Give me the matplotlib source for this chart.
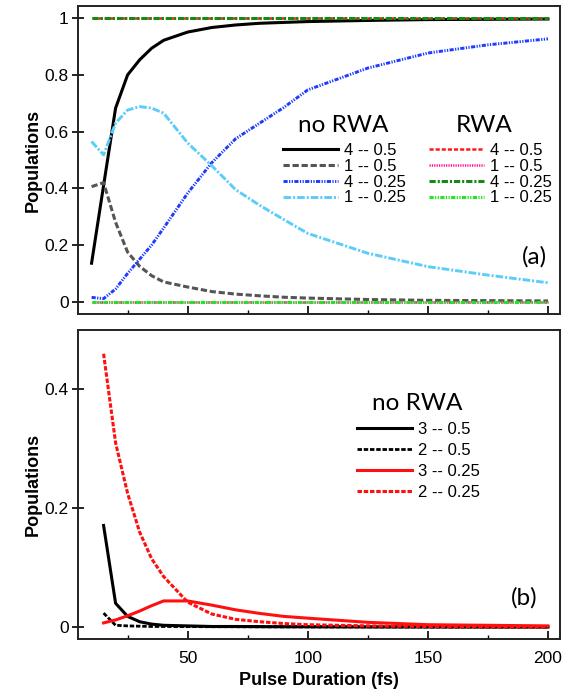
import matplotlib
matplotlib.use("Agg")
import matplotlib.pyplot as plt
from matplotlib.ticker import FixedLocator, FuncFormatter

plt.rcParams['font.family'] = ['Liberation Sans', 'DejaVu Sans']
plt.rcParams['lines.scale_dashes'] = False

# ---------------- data ----------------
x_top = [10, 15, 20, 25, 30, 35, 40, 50, 60, 70, 80, 90, 100, 125, 150, 175, 200]
norwa_4_05 = [0.136, 0.41, 0.683, 0.80, 0.853, 0.894, 0.922, 0.951, 0.967, 0.976, 0.982,
              0.985, 0.988, 0.992, 0.995, 0.996, 0.997]
norwa_1_05 = [0.406, 0.42, 0.28, 0.175, 0.125, 0.092, 0.07, 0.052, 0.036, 0.027, 0.021,
              0.016, 0.013, 0.008, 0.005, 0.004, 0.003]
norwa_4_025 = [0.0155, 0.011, 0.045, 0.10, 0.15, 0.20, 0.26, 0.383, 0.49, 0.575, 0.63,
               0.685, 0.747, 0.824, 0.877, 0.906, 0.927]
norwa_1_025 = [0.565, 0.518, 0.63, 0.676, 0.688, 0.683, 0.665, 0.56, 0.48, 0.395, 0.34,
               0.29, 0.241, 0.171, 0.124, 0.094, 0.067]
rwa_4_05 = [1.0] * len(x_top)
rwa_1_05 = [0.0] * len(x_top)
rwa_4_025 = [1.0] * len(x_top)
rwa_1_025 = [0.0] * len(x_top)

x_bot = [15, 20, 25, 30, 35, 40, 50, 60, 70, 80, 90, 100, 125, 150, 175, 200]
b_3_05 = [0.171, 0.040, 0.018, 0.009, 0.005, 0.003, 0.002, 0.001, 0.001, 0.0008, 0.0006,
          0.0005, 0.0003, 0.0002, 0.0001, 0.0001]
b_2_05 = [0.0235, 0.003, 0.002, 0.0015, 0.001, 0.001, 0.0008, 0.0006, 0.0005, 0.0004,
          0.0003, 0.0003, 0.0002, 0.0001, 0.0001, 0.0001]
b_3_025 = [0.007, 0.012, 0.019, 0.027, 0.036, 0.044, 0.044, 0.037, 0.029, 0.023, 0.018,
           0.015, 0.008, 0.004, 0.003, 0.002]
b_2_025 = [0.46, 0.31, 0.225, 0.16, 0.115, 0.085, 0.042, 0.022, 0.013, 0.009, 0.006,
           0.004, 0.002, 0.001, 0.0005, 0.0003]

top_labels = ['4 -- 0.5', '1 -- 0.5', '4 -- 0.25', '1 -- 0.25']
bot_labels = ['3 -- 0.5', '2 -- 0.5', '3 -- 0.25', '2 -- 0.25']

# ---------------- figure ----------------
W, H = 572, 694
fig = plt.figure(figsize=(W / 100, H / 100), dpi=100)
ax1 = fig.add_axes([0.137, 0.5476, 0.842, 0.4438])
ax2 = fig.add_axes([0.137, 0.0793, 0.842, 0.4452])

title_font = dict(family=['Lato', 'DejaVu Sans'], size=17.5)

# top panel
l1, = ax1.plot(x_top, norwa_4_05, color='black', lw=2.2)
l2, = ax1.plot(x_top, norwa_1_05, color='#555555', lw=2.2, dashes=(4.5, 2.0))
l3, = ax1.plot(x_top, norwa_4_025, color='#1d3cff', lw=2.1, dashes=(3, 1, 0.9, 1, 0.9, 1))
l4, = ax1.plot(x_top, norwa_1_025, color='#5ccdfa', lw=2.1, dashes=(5.5, 1.4, 1.5, 1.4))
r1, = ax1.plot(x_top, rwa_4_05, color='#ff1a1a', lw=1.8, dashes=(3, 1.4))
r3, = ax1.plot(x_top, rwa_4_025, color='#138a13', lw=2.2, dashes=(4.5, 1.4, 1.5, 1.4))
r2, = ax1.plot(x_top, rwa_1_05, color='#ff1493', lw=1.8, dashes=(0.9, 0.8))
r4, = ax1.plot(x_top, rwa_1_025, color='#22e622', lw=2.2, dashes=(3, 1, 0.9, 1, 0.9, 1))

leg_kw = dict(loc='upper left', bbox_transform=fig.transFigure, frameon=False,
              fontsize=12, handlelength=3.3, handletextpad=0.35, borderpad=0,
              borderaxespad=0)
leg1 = ax1.legend([l1, l2, l3, l4], top_labels, bbox_to_anchor=(283 / W, 1 - 143 / H),
                  labelspacing=0.05, **leg_kw)
ax1.add_artist(leg1)
ax1.legend([r1, r2, r3, r4], top_labels, bbox_to_anchor=(429 / W, 1 - 143 / H),
           labelspacing=0.05, **leg_kw)
fig.text(343 / W, 1 - 125 / H, 'no RWA', ha='center', va='center', fontdict=title_font)
fig.text(484 / W, 1 - 125 / H, 'RWA', ha='center', va='center', fontdict=title_font)
fig.text(547 / W, 1 - 257 / H, '(a)', ha='right', va='center', fontdict=title_font)

# bottom panel
ax2.plot(x_bot, b_3_05, color='black', lw=2.2, label=bot_labels[0])
ax2.plot(x_bot, b_2_05, color='black', lw=2, dashes=(3.2, 1.3), label=bot_labels[1])
ax2.plot(x_bot, b_3_025, color='#ff1010', lw=2.2, label=bot_labels[2])
ax2.plot(x_bot, b_2_025, color='#ff1010', lw=2.2, dashes=(3.2, 1.3), label=bot_labels[3])
ax2.legend(bbox_to_anchor=(357 / W, 1 - 422 / H), labelspacing=0.36, **leg_kw)
fig.text(417 / W, 1 - 403 / H, 'no RWA', ha='center', va='center', fontdict=title_font)
fig.text(537 / W, 1 - 598 / H, '(b)', ha='right', va='center', fontdict=title_font)

fmt = FuncFormatter(lambda v, p: '%g' % round(v, 3))
for ax in (ax1, ax2):
    ax.set_xlim(4.5, 205)
    ax.xaxis.set_major_locator(FixedLocator([50, 100, 150, 200]))
    ax.xaxis.set_minor_locator(FixedLocator([25, 75, 125, 175]))
    ax.tick_params(axis='x', which='major', direction='in', length=6, width=1.2)
    ax.tick_params(axis='x', which='minor', direction='in', length=3, width=1.0)
    ax.tick_params(axis='y', which='major', direction='inout', length=8, width=1.2,
                   labelsize=12.5, pad=3)
    ax.yaxis.set_major_formatter(fmt)
    for s in ax.spines.values():
        s.set_linewidth(1.4)
        s.set_color('#222222')
    ax.set_ylabel('Populations', fontsize=13, fontweight='bold')
    ax.yaxis.set_label_coords(-0.075, 0.5)

ax1.set_ylim(-0.043, 1.043)
ax1.set_yticks([0, 0.2, 0.4, 0.6, 0.8, 1.0])
ax1.tick_params(axis='x', labelbottom=False)

ax2.set_ylim(-0.02, 0.5)
ax2.set_yticks([0, 0.2, 0.4])
ax2.tick_params(axis='x', labelsize=12.5, pad=9)
ax2.set_xlabel('Pulse Duration (fs)', fontsize=13, fontweight='bold', labelpad=4)

fig.savefig('out.png', dpi=100)
